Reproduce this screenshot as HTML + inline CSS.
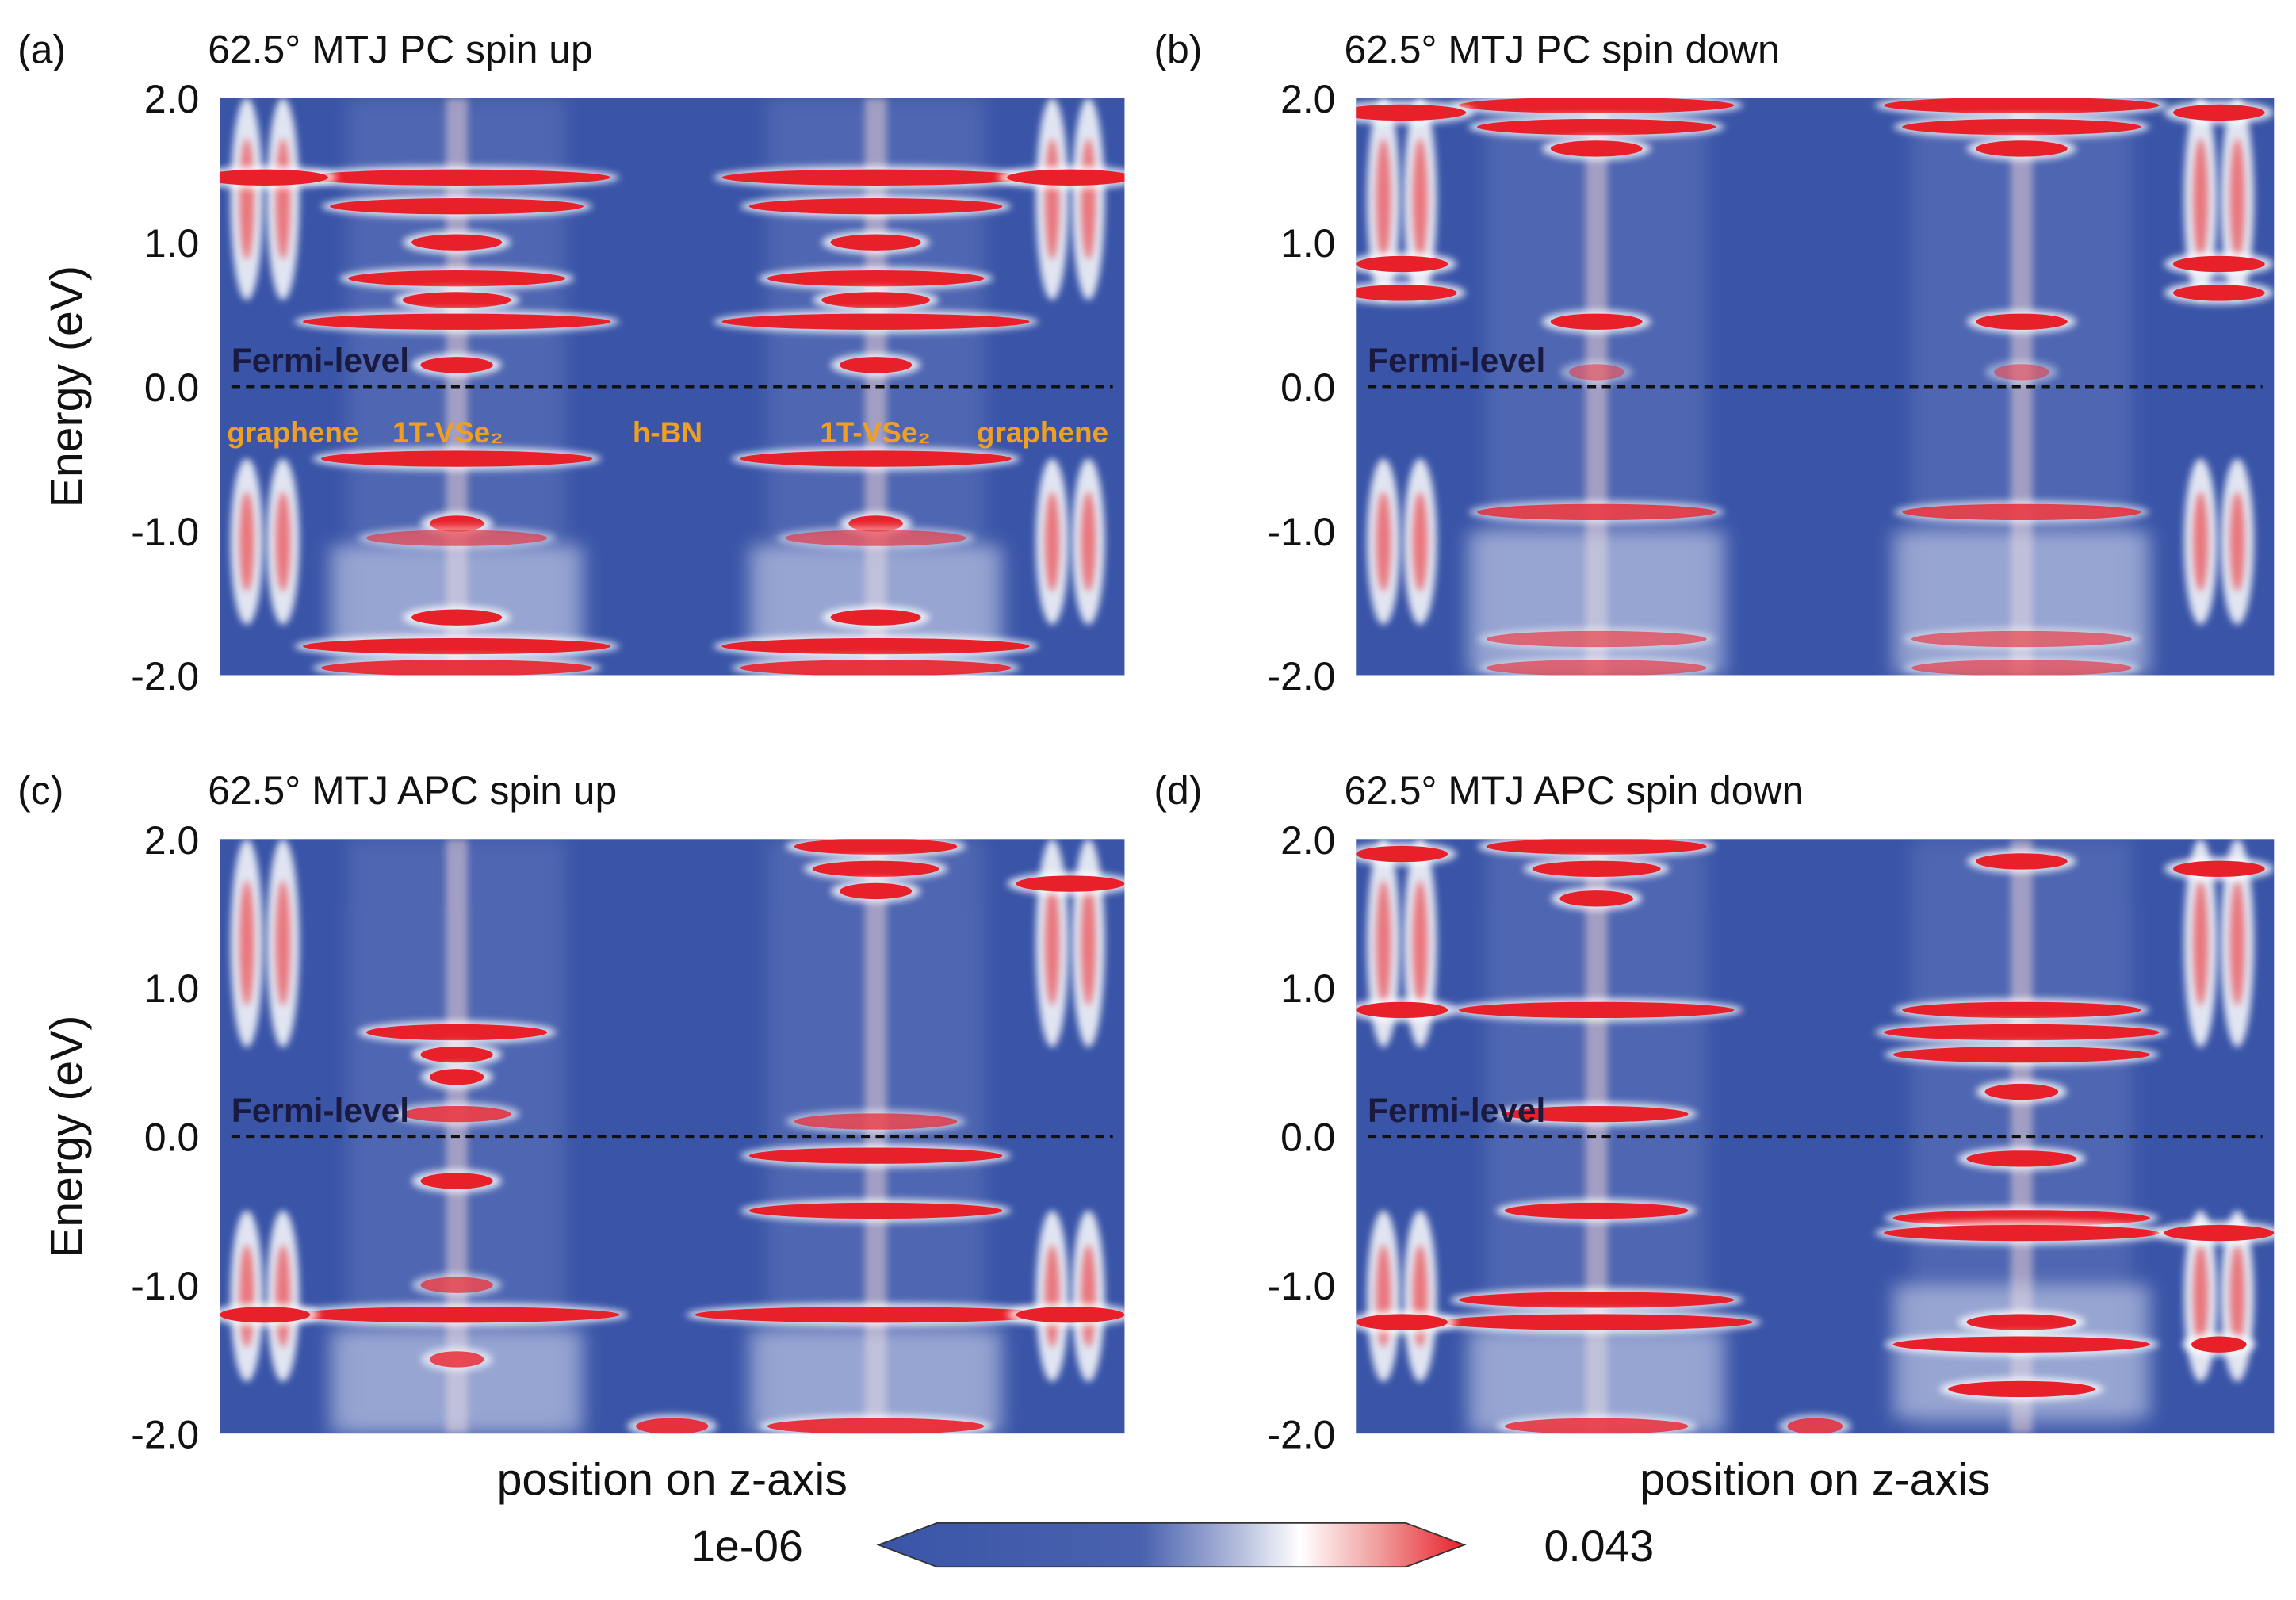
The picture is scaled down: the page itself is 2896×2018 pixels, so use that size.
<!DOCTYPE html>
<html><head><meta charset="utf-8"><style>
html,body{margin:0;padding:0;background:#fff}
svg{display:block}
text{font-family:"Liberation Sans",sans-serif}
</style></head><body>
<svg id="fig" width="2896" height="2018" viewBox="0 0 1568 1092.6" xmlns="http://www.w3.org/2000/svg">
<defs>
<filter id="blur" x="-50%" y="-50%" width="200%" height="200%"><feGaussianBlur stdDeviation="2.5"/></filter>
<filter id="blur2" x="-50%" y="-50%" width="200%" height="200%"><feGaussianBlur stdDeviation="6"/></filter>
<linearGradient id="cbg" x1="0" x2="1" y1="0" y2="0">
<stop offset="0" stop-color="#3a55a8"/><stop offset="0.45" stop-color="#4a62ae"/><stop offset="0.62" stop-color="#b8c0de"/><stop offset="0.72" stop-color="#ffffff"/><stop offset="0.85" stop-color="#f0a0a0"/><stop offset="1" stop-color="#e8202a"/>
</linearGradient>
</defs>
<g id="root"></g>
</svg>
<script>
const energyTicks = [2.0, 1.0, 0.0, -1.0, -2.0];
const tickLabels = ["2.0", "1.0", "0.0", "-1.0", "-2.0"];
const columns = [0.05, 0.262, 0.5, 0.725, 0.94];
const grapheneRanges = [[0.6, 2.0], [-1.65, -0.5]];
// bands: [column index, energy, halfWidth(fraction), strength]
const bandsA = [[1,1.45,0.17,1],[1,1.25,0.14,1],[1,1.0,0.05,1],[1,0.75,0.12,1],[1,0.6,0.06,1],[1,0.45,0.17,1],[1,0.15,0.04,1],[1,-0.5,0.15,1],[1,-0.95,0.03,1],[1,-1.05,0.1,0.6],[1,-1.6,0.05,1],[1,-1.8,0.17,1],[1,-1.95,0.15,0.9],
[3,1.45,0.17,1],[3,1.25,0.14,1],[3,1.0,0.05,1],[3,0.75,0.12,1],[3,0.6,0.06,1],[3,0.45,0.17,1],[3,0.15,0.04,1],[3,-0.5,0.15,1],[3,-0.95,0.03,1],[3,-1.05,0.1,0.6],[3,-1.6,0.05,1],[3,-1.8,0.17,1],[3,-1.95,0.15,0.9],
[0,1.45,0.07,1],[4,1.45,0.07,1]];
const bandsB = [[1,1.95,0.15,1],[1,1.8,0.13,1],[1,1.65,0.05,1],[1,0.45,0.05,1],[1,0.1,0.03,0.5],[1,-0.87,0.13,0.8],[1,-1.75,0.12,0.6],[1,-1.95,0.12,0.6],
[3,1.95,0.15,1],[3,1.8,0.13,1],[3,1.65,0.05,1],[3,0.45,0.05,1],[3,0.1,0.03,0.5],[3,-0.87,0.13,0.8],[3,-1.75,0.12,0.6],[3,-1.95,0.12,0.6],
[0,1.9,0.07,1],[0,0.85,0.05,1],[0,0.65,0.06,1],[4,1.9,0.05,1],[4,0.85,0.05,1],[4,0.65,0.05,1]];
const bandsC = [[1,0.7,0.1,1],[1,0.55,0.04,1],[1,0.4,0.03,1],[1,0.15,0.06,0.8],[1,-0.3,0.04,1],[1,-1.0,0.04,0.7],[1,-1.2,0.18,1],[1,-1.5,0.03,0.8],
[3,1.95,0.09,1],[3,1.8,0.07,1],[3,1.65,0.04,1],[3,0.1,0.09,0.7],[3,-0.13,0.14,1],[3,-0.5,0.14,1],[3,-1.2,0.2,1],[3,-1.95,0.12,0.9],
[0,-1.2,0.05,1],[4,1.7,0.06,1],[4,-1.2,0.06,1],[2,-1.95,0.04,0.9]];
const bandsD = [[1,1.95,0.12,1],[1,1.8,0.07,1],[1,1.6,0.04,1],[1,0.85,0.15,1],[1,0.15,0.1,1],[1,-0.5,0.1,1],[1,-1.1,0.15,1],[1,-1.25,0.17,1],[1,-1.95,0.1,0.8],
[3,1.85,0.05,1],[3,0.85,0.13,1],[3,0.7,0.15,1],[3,0.55,0.14,1],[3,0.3,0.04,1],[3,-0.15,0.06,1],[3,-0.55,0.14,1],[3,-0.65,0.15,1],[3,-1.25,0.06,1],[3,-1.4,0.14,1],[3,-1.7,0.08,1],
[0,1.9,0.05,1],[0,0.85,0.05,1],[0,-1.25,0.05,1],[4,1.8,0.05,1],[4,-0.65,0.06,1],[4,-1.4,0.03,1],[2,-1.95,0.03,0.8]];
// white haze regions: [column index, eMin, eMax]
const hazeA = [[1,-1.9,-1.1],[3,-1.9,-1.1]];
const hazeB = [[1,-2.0,-1.0],[3,-2.0,-1.0]];
const hazeC = [[1,-2.0,-1.3],[3,-2.0,-1.3]];
const hazeD = [[1,-2.0,-1.3],[3,-1.9,-1.0]];
const panels = [
 {id:"a", title:"62.5° MTJ PC spin up", x0:150, x1:768, y0:67, y1:461, bands:bandsA, haze:hazeA, ylabel:true, xlabel:false},
 {id:"b", title:"62.5° MTJ PC spin down", x0:926, x1:1553, y0:67, y1:461, bands:bandsB, haze:hazeB, ylabel:false, xlabel:false},
 {id:"c", title:"62.5° MTJ APC spin up", x0:150, x1:768, y0:573, y1:979, bands:bandsC, haze:hazeC, ylabel:true, xlabel:true},
 {id:"d", title:"62.5° MTJ APC spin down", x0:926, x1:1553, y0:573, y1:979, bands:bandsD, haze:hazeD, ylabel:false, xlabel:true}
];
const NS = "http://www.w3.org/2000/svg";
const root = document.getElementById("root");
function mk(tag, attrs, parent){const e=document.createElementNS(NS,tag);for(const k in attrs)e.setAttribute(k,attrs[k]);(parent||root).appendChild(e);return e;}
panels.forEach(p=>{
 const g = mk("g",{});
 
 
 const W=p.x1-p.x0, H=p.y1-p.y0;
 const xs = f=>p.x0+f*W;
 const ys = e=>p.y0+(2-e)/4*H;
 mk("rect",{x:p.x0,y:p.y0,width:W,height:H,fill:"#3a55a8"},g);
 const clip = mk("clipPath",{id:"clip"+p.id},g); mk("rect",{x:p.x0,y:p.y0,width:W,height:H},clip);
 const hm = mk("g",{"clip-path":"url(#clip"+p.id+")"},g);
 
 
 [1,3].forEach(c=>{
  const h=mk("rect",{x:xs(columns[c])-W*0.12,y:p.y0,width:W*0.24,height:H,fill:"#8e9dd0",opacity:0.25,filter:"url(#blur2)"},hm);
  
  const h2=mk("rect",{x:xs(columns[c])-W*0.012,y:p.y0,width:W*0.024,height:H,fill:"#f4d6d6",opacity:0.5,filter:"url(#blur)"},hm);
  
 });
 p.haze.forEach(z=>{
  const r=mk("rect",{x:xs(columns[z[0]])-W*0.14,y:ys(z[2]),width:W*0.28,height:ys(z[1])-ys(z[2]),fill:"#dfe3f2",opacity:0.5,filter:"url(#blur2)"},hm);
  
 });
 [0,4].forEach(c=>{
  grapheneRanges.forEach(r=>{
   [-0.02,0.02].forEach(d=>{
    const cx=xs(columns[c]+d), cy=ys((r[0]+r[1])/2), ry=(ys(r[0])-ys(r[1]))/2;
    const e1=mk("ellipse",{cx:cx,cy:cy,rx:W*0.018,ry:ry,fill:"#ffffff",opacity:0.85,filter:"url(#blur)"},hm);
    
    const e2=mk("ellipse",{cx:cx,cy:cy,rx:W*0.008,ry:ry*0.6,fill:"#ec5a5e",opacity:0.8,filter:"url(#blur)"},hm);
    
   });
  });
 });
 p.bands.forEach(b=>{
  const cx=xs(columns[b[0]]), cy=ys(b[1]), rx=b[2]*W;
  const h=mk("ellipse",{cx:cx,cy:cy,rx:rx+6,ry:8,fill:"#ffffff",opacity:0.8*b[3],filter:"url(#blur)"},hm);
  
  const e=mk("ellipse",{cx:cx,cy:cy,rx:rx,ry:5.5,fill:"#e8202a",opacity:b[3]},hm);
  
 });
 const fl=mk("line",{x1:p.x0+8,x2:p.x1-8,y1:ys(0),y2:ys(0),stroke:"#111","stroke-width":2,"stroke-dasharray":"6,4"},g);
 
 
 const ft=mk("text",{x:p.x0+8,y:ys(0)-10,"font-size":23,"font-weight":"bold",fill:"#1a1a40"},g); ft.textContent="Fermi-level";
 
 
 energyTicks.forEach((t,i)=>{
  const tl=mk("text",{x:p.x0-14,y:ys(t)+10,"font-size":27,"text-anchor":"end",fill:"#111"},g); tl.textContent=tickLabels[i];
  
  
 });
 const tt=mk("text",{x:p.x0-8,y:p.y0-24,"font-size":27,fill:"#111"},g); tt.textContent=p.title;
 
 
 const pl=mk("text",{x:p.x0-138,y:p.y0-24,"font-size":27,fill:"#111"},g); pl.textContent="("+p.id+")";
 
 
 if(p.ylabel){
  const yl=mk("text",{x:0,y:0,"font-size":31,"text-anchor":"middle",fill:"#111",transform:"translate(56,"+((p.y0+p.y1)/2)+") rotate(-90)"},g); yl.textContent="Energy (eV)";
  
  
 }
 if(p.xlabel){
  const xl=mk("text",{x:(p.x0+p.x1)/2,y:p.y1+42,"font-size":31,"text-anchor":"middle",fill:"#111"},g); xl.textContent="position on z-axis";
  
  
 }
});
const layerNames=["graphene","1T-VSe\u2082","h-BN","1T-VSe\u2082","graphene"];
const layerX=[155,268,432,560,667];
layerNames.forEach((n,i)=>{
 const t=mk("text",{x:layerX[i],y:302,"font-size":20,"font-weight":"bold",fill:"#f0a020"}); t.textContent=n;
 
 
});
const cb=mk("g",{});


mk("polygon",{points:"600,1055 640,1040 960,1040 1000,1055 960,1070 640,1070",fill:"url(#cbg)",stroke:"#333","stroke-width":1},cb);
const c1=mk("text",{x:510,y:1066,"font-size":30,"text-anchor":"middle",fill:"#111"},cb); c1.textContent="1e-06";


const c2=mk("text",{x:1092,y:1066,"font-size":30,"text-anchor":"middle",fill:"#111"},cb); c2.textContent="0.043";


</script>
</body></html>
